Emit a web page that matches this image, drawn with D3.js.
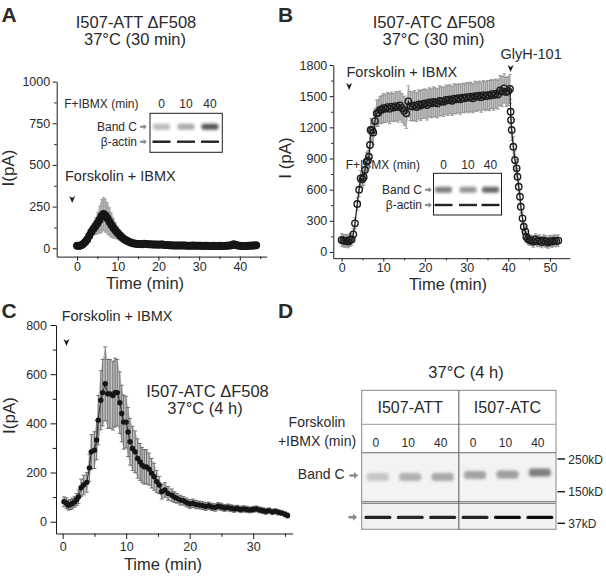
<!DOCTYPE html>
<html><head><meta charset="utf-8">
<script src="https://cdn.jsdelivr.net/npm/d3@7"></script>
<style>
body{margin:0;background:#fff}
svg text{font-family:"Liberation Sans",Arial,Helvetica,sans-serif}
</style></head><body>
<svg id="fig" width="606" height="576"></svg>
<script>
// ---------------- DATA ----------------
// Panel A: I507-ATT ΔF508, 37°C 30 min
const timeA = [0,0.5,1,1.5,2,2.5,3,3.5,4,4.5,5,5.5,6,6.5,7,7.5,8,8.5,9,9.5,10,10.5,11,11.5,12,12.5,13,13.5,14,14.5,15,15.5,16,16.5,17,17.5,18,18.5,19,19.5,20,20.5,21,21.5,22,22.5,23,23.5,24,24.5,25,25.5,26,26.5,27,27.5,28,28.5,29,29.5,30,30.5,31,31.5,32,32.5,33,33.5,34,34.5,35,35.5,36,36.5,37,37.5,38,38.5,39,39.5,40,40.5,41,41.5,42,42.5,43,43.5,44];
const currentA = [15,14,18,26,38,52,75,98,115,132,150,170,192,205,196,178,158,138,120,105,92,78,66,56,48,42,36,31,28,27,26,25,24,27,26,24,24,23,22,22,21,22,23,20,19,18,18,17,17,17,16,16,16,16,15,15,15,16,15,15,15,15,14,15,15,14,14,15,14,14,15,14,14,15,15,16,18,24,20,16,15,14,14,14,15,15,16,17,18];
const errA = [4,4,4,5,6,8,15,25,35,50,65,80,100,100,100,95,85,75,60,48,38,30,22,16,12,10,8,7,6,6,6,5,5,5,5,5,5,5,5,5,5,5,5,5,4,4,4,4,4,4,4,4,4,4,4,4,4,4,4,4,4,4,4,4,4,4,4,4,4,4,4,4,4,4,4,4,5,6,5,4,4,4,4,4,4,4,4,4,4];

// Panel B: I507-ATC ΔF508, 37°C 30 min
const timeB = [0,0.4,0.8,1.2,1.6,2.0,2.4,2.8,3.2,3.75,4.2,4.55,5.0,5.3,5.6,6.0,6.3,6.55,6.8,6.95,7.3,7.6,8.0,8.4,8.8,9.2,9.6,10,10.5,11,11.5,12,12.5,13,13.5,14,14.5,15,15.5,16,16.5,17,17.5,18,18.5,19,19.5,20,20.5,21,21.5,22,22.5,23,23.5,24,24.5,25,25.5,26,26.5,27,27.5,28,28.5,29,29.5,30,30.5,31,31.5,32,32.5,33,33.5,34,34.5,35,35.5,36,36.5,37,37.5,38,38.5,39,39.5,40,40.4,40.55,40.65,40.8,41.2,41.6,42.0,42.2,42.5,42.8,43.0,43.4,43.7,44.1,44.3,44.7,45.1,45.5,46,46.5,47,47.5,48,48.5,49,49.5,50,50.5,51,51.5,52];
const currentB = [115,110,105,110,100,115,120,170,276,462,600,709,700,720,789,869,880,917,1030,1174,1170,1150,1260,1335,1340,1367,1370,
 1385,1380,1395,1380,1400,1390,1405,1395,1410,1385,1360,1335,1450,1405,1400,1410,1395,1420,1410,1425,1430,1415,1440,1430,1445,1440,1430,1455,1450,1445,1465,1460,1470,1455,1475,1470,1480,1470,1485,1480,1490,1485,1495,1480,1500,1495,1505,1490,1510,1500,1510,1505,1520,1510,1525,1515,1555,1545,1575,1540,1550,
 1570,1350,1270,1174,1014,885,805,725,628,532,436,324,243,195,147,125,115,110,
 100,120,105,110,95,110,100,90,105,100,110,105,110];
const errB = [60,60,60,60,60,60,55,55,55,60,70,75,80,80,85,90,95,100,105,110,115,115,120,125,130,130,135,
 140,135,140,145,140,135,140,145,140,140,140,145,150,140,140,145,140,140,145,140,140,145,140,140,145,140,140,145,140,140,140,145,140,140,145,140,140,145,140,140,140,145,140,140,145,140,140,145,140,140,140,145,140,145,140,140,145,145,140,140,140,
 140,120,110,100,95,90,85,80,75,70,65,60,55,55,50,50,50,50,
 55,55,55,55,55,55,55,55,55,55,55,55,55];

// Panel C: I507-ATC ΔF508, 37°C 4 h
const timeC = [0.2,0.6,0.9,1.2,1.5,1.9,2.2,2.5,2.9,3.3,3.8,4.2,4.5,5.0,5.35,5.6,6.0,6.3,6.7,7.1,7.45,7.9,8.25,8.6,9.0,9.3,9.6,10.0,10.3,10.6,11.0,11.4,11.8,12.2,12.5,12.85,13.2,13.6,14.0,14.4,14.8,15.2,15.6,16.1,16.6,17.2,17.6,18.0,18.5,19.0,19.5,20.0,20.5,21.0,21.5,22.0,22.5,23.0,23.5,24.0,24.5,25.0,25.5,26.0,26.5,27.0,27.5,28.0,28.5,29.0,29.5,30.0,30.5,31.0,31.5,32.0,32.5,33.0,33.5,34.0,34.5,35.0,35.4];
const currentC = [81,75,67,70,74,81,90,101,138,149,160,219,284,291,332,413,494,525,561,520,520,513,525,525,484,440,405,405,365,325,298,284,257,243,230,223,223,214,197,183,163,149,122,129,115,108,100,95,88,85,78,72,75,70,68,66,62,65,60,58,63,60,56,58,55,52,54,50,52,50,48,50,52,48,45,42,45,40,42,38,35,30,25];
const errC = [20,22,20,20,22,22,25,28,35,40,40,55,70,75,80,100,120,135,150,140,140,140,140,135,125,115,110,105,100,95,90,85,80,75,72,70,70,65,60,55,45,35,30,30,28,25,22,20,20,18,18,18,17,17,16,16,16,15,15,15,15,15,14,14,14,14,13,13,13,13,12,12,12,12,12,12,11,11,11,11,10,10,10];

// Tick values
const ticksAx = [0,10,20,30,40], minorAx = [5,15,25,35,45];
const ticksAy = [0,250,500,750,1000], minorAy = [125,375,625,875];
const ticksBx = [0,10,20,30,40,50], minorBx = [5,15,25,35,45];
const ticksBy = [0,300,600,900,1200,1500,1800], minorBy = [150,450,750,1050,1350,1650];
const ticksCx = [0,10,20,30], minorCx = [5,15,25,35];
const ticksCy = [0,200,400,600,800], minorCy = [100,300,500,700];

// Western blot insets / panel D
const insetLanes = ["0","10","40"];
const bandA = [0.32,0.4,0.8], actinA = [0.95,0.9,0.92];
const bandB = [0.62,0.5,0.72], actinB = [0.9,0.88,0.92];
const groupsD = ["I507-ATT","I507-ATC"];
const lanesD = ["0","10","40","0","10","40"];
const bandD = [0.22,0.33,0.37,0.4,0.42,0.58];
const actinD = [0.9,0.88,0.9,0.9,1,1];
const markersD = ["250kD","150kD","37kD"];

// ---------------- DRAW ----------------
const svg = d3.select("#fig");
const INK = "#2a2a2a";
const defs = svg.append("defs");
defs.append("filter").attr("id","blur").attr("x","-50%").attr("y","-200%").attr("width","200%").attr("height","500%")
  .append("feGaussianBlur").attr("stdDeviation",1.5);
defs.append("filter").attr("id","blurS").attr("x","-20%").attr("y","-200%").attr("width","140%").attr("height","500%")
  .append("feGaussianBlur").attr("stdDeviation",0.45);

function txt(g, x, y, s, size, anchor, weight){
  return g.append("text").attr("x",x).attr("y",y).attr("font-size",size)
    .attr("text-anchor",anchor||"start").attr("font-weight",weight||"normal").attr("fill",INK).text(s);
}
function styleAxis(sel, fs){
  sel.attr("font-family",null).attr("font-size",null);
  sel.selectAll("path,line").attr("stroke","#1c1c1c").attr("stroke-width",1);
  sel.selectAll("text").attr("font-size",fs).attr("fill",INK);
}
function axes(g, x, y, o){
  const y0 = y.range()[0], x0 = x.range()[0];
  const f = d3.format("d");
  g.append("g").attr("transform",`translate(0,${y0})`)
    .call(d3.axisBottom(x).tickValues(o.xMaj).tickSize(o.tk).tickPadding(o.padX).tickSizeOuter(0).tickFormat(f))
    .call(s=>styleAxis(s,o.fs));
  g.append("g").attr("transform",`translate(0,${y0})`)
    .call(d3.axisBottom(x).tickValues(o.xMin).tickSize(o.tk*0.6).tickSizeOuter(0).tickFormat(()=>""))
    .call(s=>styleAxis(s,o.fs)).select(".domain").remove();
  g.append("g").attr("transform",`translate(${x0},0)`)
    .call(d3.axisLeft(y).tickValues(o.yMaj).tickSize(o.tk).tickPadding(o.padY).tickSizeOuter(0).tickFormat(f))
    .call(s=>styleAxis(s,o.fs));
  g.append("g").attr("transform",`translate(${x0},0)`)
    .call(d3.axisLeft(y).tickValues(o.yMin).tickSize(o.tk*0.6).tickSizeOuter(0).tickFormat(()=>""))
    .call(s=>styleAxis(s,o.fs)).select(".domain").remove();
}
function downArrow(g, x, y){
  g.append("path").attr("d",`M${x-3},${y-4} L${x},${y+3} L${x+3},${y-4} L${x},${y-2} Z`).attr("fill","#1c1c1c");
}
function rightArrow(g, x, y, s){
  s = s||1;
  g.append("path").attr("transform",`translate(${x},${y}) scale(${s})`)
    .attr("d","M0,-1.1 H4 V-3 L7.5,0 L4,3 V1.1 H0 Z").attr("fill","#8a8a8a");
}
function errorBars(g, t, v, e, x, y, fill, stroke, cap){
  const idx = d3.range(t.length);
  g.append("path").datum(idx)
    .attr("d", d3.area().x(i=>x(t[i])).y0(i=>y(v[i]-e[i])).y1(i=>y(v[i]+e[i])))
    .attr("fill",fill);
  const bars = g.append("g").attr("stroke",stroke).attr("stroke-width",0.8);
  idx.forEach(i=>{
    const xi = x(t[i]), ya = y(v[i]-e[i]), yb = y(v[i]+e[i]);
    bars.append("line").attr("x1",xi).attr("x2",xi).attr("y1",ya).attr("y2",yb);
    bars.append("line").attr("x1",xi-cap).attr("x2",xi+cap).attr("y1",ya).attr("y2",ya);
    bars.append("line").attr("x1",xi-cap).attr("x2",xi+cap).attr("y1",yb).attr("y2",yb);
  });
}
function inset(g, box, lanesX, labY, bandY, actinY, bands, actins, hdrEnd, hdrY, bandTextY, actinTextY, arrowX){
  g.append("rect").attr("x",box[0]).attr("y",box[1]).attr("width",box[2]).attr("height",box[3])
    .attr("fill","#fff").attr("stroke","#1c1c1c").attr("stroke-width",1);
  txt(g, hdrEnd, hdrY, "F+IBMX (min)", 12, "end");
  insetLanes.forEach((l,i)=>txt(g, lanesX[i], labY, l, 12, "middle"));
  bands.forEach((b,i)=>{
    g.append("rect").attr("x",lanesX[i]-8.5).attr("y",bandY-3).attr("width",17).attr("height",6).attr("rx",2)
      .attr("fill","#2a2a2a").attr("opacity",b).attr("filter","url(#blur)");
  });
  actins.forEach((b,i)=>{
    g.append("rect").attr("x",lanesX[i]-9).attr("y",actinY-1.2).attr("width",18).attr("height",2.4)
      .attr("fill","#111").attr("opacity",b).attr("filter","url(#blurS)");
  });
  txt(g, arrowX-3, bandTextY, "Band C", 12, "end");
  txt(g, arrowX-3, actinTextY, "β-actin", 12, "end");
  rightArrow(g, arrowX, bandY, 0.9);
  rightArrow(g, arrowX, actinY, 0.9);
}

// ---- Panel A ----
const gA = svg.append("g");
const xA = d3.scaleLinear().domain([-5,46.6]).range([56.7,266.7]);
const yA = d3.scaleLinear().domain([-50,1000]).range([256.6,81.6]);
txt(gA, 1.5, 21.7, "A", 21, "start", "bold");
txt(gA, 136, 28.3, "I507-ATT ΔF508", 16.5, "middle");
txt(gA, 135, 44.8, "37°C (30 min)", 16.5, "middle");
inset(gA, [150,113.3,72.3,39], [161.5,186,210], 108.3, 126.7, 141.7, bandA, actinA, 138.5, 108.3, 131, 146, 140);
errorBars(gA, timeA, currentA, errA, xA, yA, "#b4b4b4", "#9a9a9a", 1.5);
gA.append("g").selectAll("circle").data(d3.range(timeA.length)).join("circle")
  .attr("cx",i=>xA(timeA[i])).attr("cy",i=>yA(currentA[i])).attr("r",4).attr("fill","#151515");
axes(gA, xA, yA, {xMaj:ticksAx,xMin:minorAx,yMaj:ticksAy,yMin:minorAy,tk:4,padX:1.5,padY:2.5,fs:12.5});
txt(gA, 65, 181, "Forskolin + IBMX", 14.5);
downArrow(gA, xA(-1.2), 200);
txt(gA, 145, 289, "Time (min)", 16.5, "middle");
gA.append("text").attr("transform","translate(13.5,168) rotate(-90)").attr("text-anchor","middle")
  .attr("font-size",17).attr("fill",INK).text("I(pA)");

// ---- Panel B ----
const gB = svg.append("g");
const xB = d3.scaleLinear().domain([-2,54.8]).range([333.3,570]);
const yB = d3.scaleLinear().domain([-60,1800]).range([258.2,65]);
txt(gB, 278, 21.7, "B", 21, "start", "bold");
txt(gB, 434, 28.3, "I507-ATC ΔF508", 16.5, "middle");
txt(gB, 433.5, 44.8, "37°C (30 min)", 16.5, "middle");
inset(gB, [433.5,173.3,68,41.7], [443.5,468,490.5], 168.5, 189.8, 205, bandB, actinB, 420, 168.5, 194, 209, 425);
errorBars(gB, timeB, currentB, errB, xB, yB, "#c6c6c6", "#8c8c8c", 1.8);
gB.append("path").datum(d3.range(timeB.length))
  .attr("d", d3.line().x(i=>xB(timeB[i])).y(i=>yB(currentB[i])))
  .attr("fill","none").attr("stroke","#1c1c1c").attr("stroke-width",1.1);
gB.append("g").selectAll("circle").data(d3.range(timeB.length)).join("circle")
  .attr("cx",i=>xB(timeB[i])).attr("cy",i=>yB(currentB[i])).attr("r",3.2)
  .attr("fill","none").attr("stroke","#1c1c1c").attr("stroke-width",1.4);
axes(gB, xB, yB, {xMaj:ticksBx,xMin:minorBx,yMaj:ticksBy,yMin:minorBy,tk:3.5,padX:1.5,padY:2.5,fs:12.5});
txt(gB, 346.5, 77, "Forskolin + IBMX", 14.5);
downArrow(gB, xB(1.8), 87);
txt(gB, 500.5, 58.8, "GlyH-101", 14.5);
downArrow(gB, xB(40.55), 69);
txt(gB, 448, 290, "Time (min)", 16.5, "middle");
gB.append("text").attr("transform","translate(290.5,158) rotate(-90)").attr("text-anchor","middle")
  .attr("font-size",17).attr("fill",INK).text("I (pA)");

// ---- Panel C ----
const gC = svg.append("g");
const xC = d3.scaleLinear().domain([-1.05,36.2]).range([56,292.6]);
const yC = d3.scaleLinear().domain([-48,800]).range([533.5,325]);
txt(gC, 1.5, 317.7, "C", 21, "start", "bold");
errorBars(gC, timeC, currentC, errC, xC, yC, "#c4c4c4", "#5a5a5a", 2);
gC.append("path").datum(d3.range(timeC.length))
  .attr("d", d3.line().x(i=>xC(timeC[i])).y(i=>yC(currentC[i])))
  .attr("fill","none").attr("stroke","#1c1c1c").attr("stroke-width",0.9);
gC.append("g").selectAll("circle").data(d3.range(timeC.length)).join("circle")
  .attr("cx",i=>xC(timeC[i])).attr("cy",i=>yC(currentC[i])).attr("r",2.7).attr("fill","#151515");
axes(gC, xC, yC, {xMaj:ticksCx,xMin:minorCx,yMaj:ticksCy,yMin:minorCy,tk:5.5,padX:3.5,padY:3.5,fs:12.5});
txt(gC, 61.7, 321, "Forskolin + IBMX", 14.5);
downArrow(gC, xC(0.6), 343);
txt(gC, 207.5, 396.5, "I507-ATC ΔF508", 16.5, "middle");
txt(gC, 205, 413.5, "37°C (4 h)", 16.5, "middle");
txt(gC, 163, 570, "Time (min)", 16.5, "middle");
gC.append("text").attr("transform","translate(14.5,415.5) rotate(-90)").attr("text-anchor","middle")
  .attr("font-size",17).attr("fill",INK).text("I(pA)");

// ---- Panel D ----
const gD = svg.append("g");
txt(gD, 278, 317.7, "D", 21, "start", "bold");
txt(gD, 466, 378.3, "37°C (4 h)", 16.5, "middle");
const boxL = 361.7, boxR = 556, boxT = 390.3, hdrB = 424.3, numB = 452.7, blotB = 501.7, actT = 503.3, boxB = 529.3;
const laneX = d3.scaleBand().domain(d3.range(lanesD.length)).range([boxL, boxR]);
const grpX = d3.scaleBand().domain(groupsD).range([boxL, boxR]);
gD.append("rect").attr("x",boxL).attr("y",numB).attr("width",boxR-boxL).attr("height",blotB-numB).attr("fill","#f3f3f3");
gD.append("rect").attr("x",boxL).attr("y",actT).attr("width",boxR-boxL).attr("height",boxB-actT).attr("fill","#f1f1f1");
const bandYoff = [1,1,1,-1,-1.5,-3.5];
bandD.forEach((b,i)=>{
  gD.append("rect").attr("x",laneX(i)+laneX.bandwidth()/2-11).attr("y",476+bandYoff[i]-4).attr("width",22).attr("height",8).attr("rx",3)
    .attr("fill","#2a2a2a").attr("opacity",b).attr("filter","url(#blur)");
});
actinD.forEach((b,i)=>{
  gD.append("rect").attr("x",laneX(i)+laneX.bandwidth()/2-13.5).attr("y",517.3-1.6).attr("width",27).attr("height",3.2).attr("rx",1.5)
    .attr("fill","#111").attr("opacity",b).attr("filter","url(#blurS)");
});
const boxG = gD.append("g").attr("fill","none");
boxG.append("rect").attr("x",boxL).attr("y",boxT).attr("width",boxR-boxL).attr("height",boxB-boxT).attr("stroke","#8a8a8a");
[hdrB].forEach(yy=>boxG.append("line").attr("x1",boxL).attr("x2",boxR).attr("y1",yy).attr("y2",yy).attr("stroke","#9a9a9a"));
[numB, blotB, actT].forEach(yy=>boxG.append("line").attr("x1",boxL).attr("x2",boxR).attr("y1",yy).attr("y2",yy).attr("stroke","#8a8a8a").attr("stroke-width",1.2));
boxG.append("line").attr("x1",grpX("I507-ATC")).attr("x2",grpX("I507-ATC")).attr("y1",boxT).attr("y2",boxB).attr("stroke","#555");
groupsD.forEach(gname=>txt(gD, grpX(gname)+grpX.bandwidth()/2, 413, gname, 16, "middle"));
lanesD.forEach((l,i)=>txt(gD, laneX(i)+laneX.bandwidth()/2-2, 446.7, l, 12, "middle"));
txt(gD, 317, 427, "Forskolin", 14, "middle");
txt(gD, 317, 445.5, "+IBMX (min)", 14, "middle");
txt(gD, 344.5, 478.5, "Band C", 14, "end");
rightArrow(gD, 349.5, 475.5, 1.15);
rightArrow(gD, 348.5, 517.3, 1.15);
const markY = [459, 491.7, 523.3];
markersD.forEach((m,i)=>{
  gD.append("line").attr("x1",557.5).attr("x2",565).attr("y1",markY[i]).attr("y2",markY[i]).attr("stroke","#1c1c1c").attr("stroke-width",1.5);
  txt(gD, 568.3, markY[i]+4.5, m, 12);
});
</script>
</body></html>
